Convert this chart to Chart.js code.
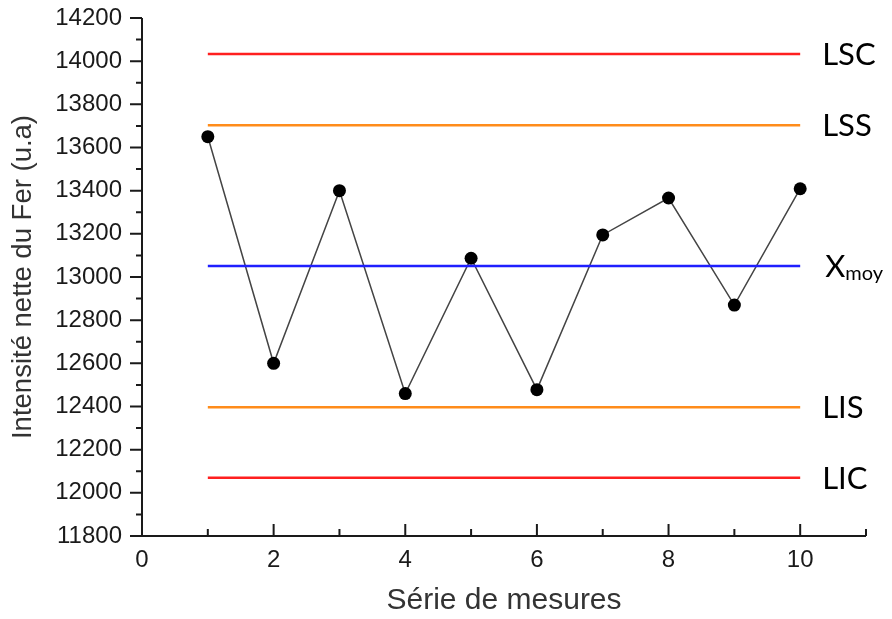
<!DOCTYPE html>
<html>
<head>
<meta charset="utf-8">
<script src="https://cdn.jsdelivr.net/npm/chart.js@4.4.1/dist/chart.umd.min.js"></script>
<style>
  html, body { margin: 0; padding: 0; background: #fff; }
  #wrap { width: 892px; height: 619px; }
</style>
</head>
<body>
<div id="wrap"><canvas id="myChart" width="892" height="619"></canvas></div>
<script>
const series = [1, 2, 3, 4, 5, 6, 7, 8, 9, 10];
const intensity = [13650, 12600, 13400, 12460, 13087, 12478, 13195, 13366, 12870, 13409];

const limitNames = ["LSC", "LSS", "Xmoy", "LIS", "LIC"];
const limitValues = [14033, 13703, 13051, 12396, 12070];
const limitColors = ["#ff1f1f", "#ff8c1a", "#1f1fff", "#ff8c1a", "#ff1f1f"];

const yMin = 11800, yMax = 14200, yStep = 200;
const xMin = 0, xMax = 11, xStep = 2;

const limitDatasets = limitNames.map((name, i) => ({
  label: name,
  data: [
    { x: series[0], y: limitValues[i] },
    { x: series[series.length - 1], y: limitValues[i] },
  ],
  borderColor: limitColors[i],
  borderWidth: 2.5,
  pointRadius: 0,
  showLine: true,
}));

// axes with inward / outward ticks and minor ticks, plus the right-side labels
const axesPlugin = {
  id: "axesPlugin",
  afterDraw(chart) {
    const c = chart.ctx;
    const xs = chart.scales.x;
    const ys = chart.scales.y;
    const x0 = xs.getPixelForValue(xMin);
    const x1 = xs.getPixelForValue(xMax);
    const y0 = ys.getPixelForValue(yMin);
    const y1 = ys.getPixelForValue(yMax);
    c.save();
    c.strokeStyle = "#1a1a1a";
    c.lineWidth = 2;
    c.beginPath();
    c.moveTo(x0, y1);
    c.lineTo(x0, y0);
    c.lineTo(x1, y0);
    for (let v = yMin; v <= yMax; v += yStep / 2) {
      const p = ys.getPixelForValue(v);
      const len = (v - yMin) % yStep === 0 ? 12 : 6;
      c.moveTo(x0, p);
      c.lineTo(x0 - len, p);
    }
    for (let v = xMin + 1; v <= xMax; v += 1) {
      const p = xs.getPixelForValue(v);
      const len = v % xStep === 0 ? 12 : 7;
      c.moveTo(p, y0);
      c.lineTo(p, y0 - len);
    }
    c.stroke();

    c.fillStyle = "#000";
    c.textBaseline = "alphabetic";
    const lx = xs.getPixelForValue(series[series.length - 1]) + 22;
    limitNames.forEach((name, i) => {
      const py = ys.getPixelForValue(limitValues[i]);
      if (name === "Xmoy") {
        c.font = "31px Lato, 'Open Sans', sans-serif";
        c.fillText("X", lx + 3, py + 11);
        const w = c.measureText("X").width;
        c.font = "20px Lato, 'Open Sans', sans-serif";
        c.fillText("moy", lx + 3 + w, py + 14);
      } else {
        c.font = "31px Lato, 'Open Sans', sans-serif";
        c.fillText(name, lx, py + 11);
      }
    });
    c.restore();
  },
};

const ctx = document.getElementById("myChart").getContext("2d");
const chart = new Chart(ctx, {
  type: "scatter",
  data: {
    datasets: [
      ...limitDatasets,
      {
        label: "Intensité",
        data: series.map((s, i) => ({ x: s, y: intensity[i] })),
        borderColor: "#444",
        borderWidth: 1.5,
        showLine: true,
        pointRadius: 6.5,
        pointBackgroundColor: "#000",
        pointBorderColor: "#000",
        pointBorderWidth: 0,
        clip: false,
      },
    ],
  },
  plugins: [axesPlugin],
  options: {
    responsive: false,
    animation: false,
    layout: { padding: { left: 0, top: 18, right: 26, bottom: 0 } },
    plugins: {
      legend: { display: false },
      tooltip: { enabled: false },
    },
    scales: {
      x: {
        type: "linear",
        min: xMin,
        max: xMax,
        grid: { display: false, drawTicks: false },
        border: { display: false },
        ticks: {
          stepSize: xStep,
          padding: 10,
          color: "#1a1a1a",
          font: { family: "'Liberation Sans', Arial, sans-serif", size: 24 },
          callback: (v) => (v % xStep === 0 ? String(v) : ""),
          maxRotation: 0,
        },
        title: {
          display: true,
          text: "Série de mesures",
          color: "#333",
          font: { family: "'Liberation Sans', Arial, sans-serif", size: 30 },
          padding: { top: 0, bottom: 0 },
        },
        afterFit: (scale) => {
          scale.height = 83;
          scale.paddingLeft = 0;
          scale.paddingRight = 0;
        },
      },
      y: {
        min: yMin,
        max: yMax,
        grid: { display: false, drawTicks: false },
        border: { display: false },
        ticks: {
          stepSize: yStep,
          padding: 20,
          color: "#1a1a1a",
          font: { family: "'Liberation Sans', Arial, sans-serif", size: 24 },
          callback: (v) => String(v),
        },
        title: {
          display: true,
          text: "Intensité nette du Fer (u.a)",
          color: "#333",
          font: { family: "'Liberation Sans', Arial, sans-serif", size: 27.5 },
          padding: { top: 6.5, bottom: 0 },
        },
        afterFit: (scale) => {
          scale.width = 142;
          scale.paddingTop = 0;
          scale.paddingBottom = 0;
        },
      },
    },
  },
});
</script>
</body>
</html>
